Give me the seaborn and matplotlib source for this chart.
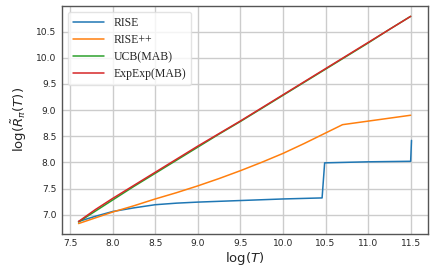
import matplotlib
matplotlib.use("Agg")
import matplotlib.pyplot as plt
import pandas as pd
import seaborn as sns

# log(T) positions and log(regret) values
rise_x = [7.60, 7.80, 8.00, 8.25, 8.50, 8.75, 9.00, 9.50, 10.00, 10.46, 10.49, 11.00, 11.50, 11.51]
rise_y = [6.87, 6.97, 7.06, 7.13, 7.19, 7.22, 7.24, 7.27, 7.30, 7.32, 7.99, 8.01, 8.02, 8.42]

risepp_x = [7.60, 8.00, 8.25, 8.50, 8.75, 9.00, 9.25, 9.50, 9.75, 10.00, 10.25, 10.50, 10.70, 11.50]
risepp_y = [6.83, 7.05, 7.17, 7.30, 7.42, 7.55, 7.69, 7.84, 8.00, 8.17, 8.36, 8.56, 8.72, 8.90]

mab_x = [7.60, 7.80, 8.00, 8.25, 8.50, 8.75, 9.00, 9.25, 9.50, 9.75,
         10.00, 10.25, 10.50, 10.75, 11.00, 11.25, 11.50]
ucb_y = [6.86, 7.07, 7.28, 7.54, 7.79, 8.04, 8.29, 8.54, 8.78, 9.03,
         9.28, 9.53, 9.78, 10.03, 10.28, 10.54, 10.79]
expexp_y = [6.87, 7.10, 7.31, 7.56, 7.81, 8.06, 8.31, 8.55, 8.79, 9.04,
            9.29, 9.54, 9.79, 10.04, 10.29, 10.54, 10.79]

labels = ["RISE", "RISE++", "UCB(MAB)", "ExpExp(MAB)"]

frames = [
    pd.DataFrame({"x": rise_x, "y": rise_y, "algo": labels[0]}),
    pd.DataFrame({"x": risepp_x, "y": risepp_y, "algo": labels[1]}),
    pd.DataFrame({"x": mab_x, "y": ucb_y, "algo": labels[2]}),
    pd.DataFrame({"x": mab_x, "y": expexp_y, "algo": labels[3]}),
]
df = pd.concat(frames, ignore_index=True)

sns.set_style("whitegrid", {"grid.color": "#cccccc", "axes.edgecolor": "#444444"})
plt.rcParams["font.family"] = ["DejaVu Sans"]

fig = plt.figure(figsize=(4.36, 2.72), dpi=100)
ax = fig.add_axes([0.142, 0.14, 0.84, 0.838])

palette = dict(zip(labels, sns.color_palette("tab10", 4)))
sns.lineplot(data=df, x="x", y="y", hue="algo", palette=palette,
             estimator=None, sort=False, lw=1.1, ax=ax)

ax.set_xticks([7.5, 8.0, 8.5, 9.0, 9.5, 10.0, 10.5, 11.0, 11.5])
ax.set_yticks([7.0, 7.5, 8.0, 8.5, 9.0, 9.5, 10.0, 10.5])
ax.tick_params(labelsize=6.6, length=2, color="#444444", pad=2)
ax.grid(True, lw=1.0, color="#cccccc")
for s in ax.spines.values():
    s.set_linewidth(1.0)
    s.set_color("#555555")

ax.set_xlabel(r"$\log(T)$", fontsize=9.5, labelpad=1)
ax.set_ylabel(r"$\log(\tilde{R}_\pi(T))$", fontsize=9.5, labelpad=5)

leg = ax.legend(loc="upper left", prop={"family": "Liberation Serif", "size": 8.5},
                handlelength=2.6, labelspacing=0.42, borderpad=0.45,
                frameon=True, fancybox=True, title=None)
leg.get_frame().set_edgecolor("#dddddd")

fig.savefig("out.png", dpi=100)
